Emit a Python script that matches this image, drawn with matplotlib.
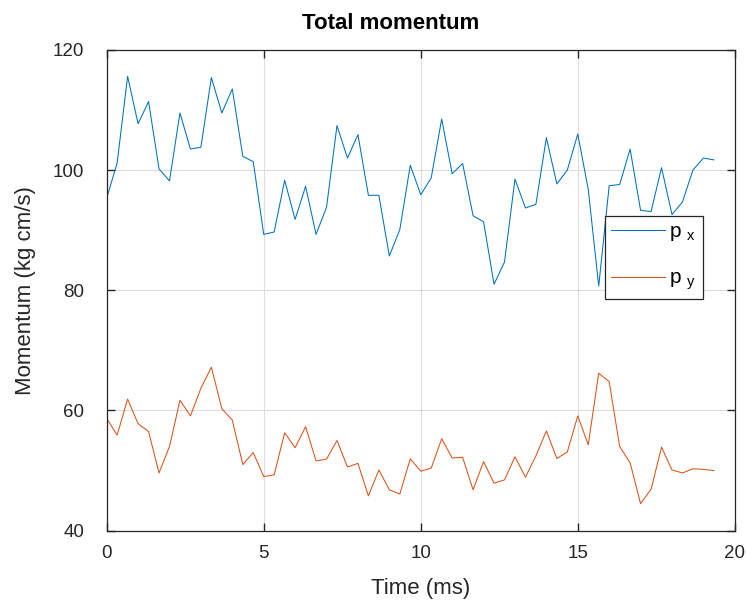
import numpy as np
import matplotlib
matplotlib.use("Agg")
import matplotlib.pyplot as plt

plt.rcParams['font.family'] = ['Liberation Sans', 'DejaVu Sans']
plt.rcParams['mathtext.default'] = 'regular'

# time in ms, one sample every 1/3 ms
t = np.arange(59) / 3.0

px = [95.3, 101.2, 115.6, 107.7, 111.4, 100.2, 98.2, 109.5, 103.5, 103.8,
      115.4, 109.5, 113.5, 102.3, 101.4, 89.3, 89.7, 98.3, 91.8, 97.3,
      89.3, 93.8, 107.4, 102.0, 105.9, 95.8, 95.8, 85.7, 90.1, 100.8,
      95.9, 98.7, 108.5, 99.4, 101.1, 92.4, 91.4, 81.0, 84.7, 98.5,
      93.7, 94.3, 105.4, 97.7, 100.0, 106.0, 96.8, 80.7, 97.4, 97.6,
      103.5, 93.3, 93.1, 100.4, 92.6, 94.7, 100.0, 102.0, 101.7]

py = [58.7, 55.9, 61.9, 57.8, 56.5, 49.6, 54.0, 61.7, 59.1, 63.7,
      67.2, 60.3, 58.4, 51.0, 53.0, 49.0, 49.3, 56.3, 53.8, 57.3,
      51.6, 51.9, 55.0, 50.6, 51.2, 45.8, 50.1, 46.8, 46.1, 51.95,
      49.9, 50.4, 55.3, 52.1, 52.2, 46.8, 51.5, 47.9, 48.45, 52.3,
      48.9, 52.45, 56.6, 52.0, 53.1, 59.1, 54.3, 66.2, 64.8, 54.0,
      51.3, 44.5, 46.9, 53.9, 50.1, 49.6, 50.3, 50.2, 50.0]

labels = ['p $_{x}$', 'p $_{y}$']

fig = plt.figure(figsize=(7.46, 6.04), dpi=100)
ax = fig.add_axes([0.143, 0.1214, 0.842, 0.796])

ax.plot(t, px, color='#0072BD', lw=0.75, label=labels[0])
ax.plot(t, py, color='#D95319', lw=0.75, label=labels[1])

ax.set_xlim(0, 20)
ax.set_ylim(40, 120)
ax.set_xticks([0, 5, 10, 15, 20])
ax.set_yticks([40, 60, 80, 100, 120])
ax.grid(True, color='#dcdcdc', lw=0.8)
ax.tick_params(direction='in', length=6, width=1, colors='#262626',
               labelsize=13.5, top=True, right=True)
ax.tick_params(axis='x', pad=10)
ax.tick_params(axis='y', pad=16)
for s in ax.spines.values():
    s.set_color('#262626')
    s.set_linewidth(0.9)

ax.set_title('Total momentum', fontsize=16, fontweight='bold', pad=15, x=0.452)
ax.set_xlabel('Time (ms)', fontsize=16, color='#262626', labelpad=12)
ax.set_ylabel('Momentum (kg cm/s)', fontsize=16, color='#262626', labelpad=12)

leg = ax.legend(loc='upper left', bbox_to_anchor=(0.793, 0.655), fontsize=15,
                handlelength=2.6, handletextpad=0.2, fancybox=False,
                framealpha=1, edgecolor='#262626', borderpad=0.3,
                labelspacing=1.25, borderaxespad=0)
leg.get_frame().set_linewidth(0.9)

fig.savefig('out.png', dpi=100)
